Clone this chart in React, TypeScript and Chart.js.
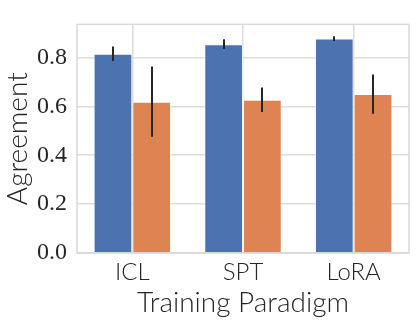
import React, { useEffect, useRef } from "react";
import { Chart, registerables } from "chart.js";

Chart.register(...registerables);

const categories = ["ICL", "SPT", "LoRA"];
const seriesA = [0.815, 0.854, 0.877];
const seriesAErr = [0.03, 0.02, 0.01];
const seriesB = [0.619, 0.627, 0.65];
const seriesBErr = [0.144, 0.05, 0.08];
const yTicks = [0, 0.2, 0.4, 0.6, 0.8];

const errorBarPlugin = {
  id: "errorBars",
  afterDatasetsDraw(chart: any) {
    const ctx = chart.ctx;
    const yScale = chart.scales.y;
    const errs = [seriesAErr, seriesBErr];
    ctx.save();
    ctx.strokeStyle = "#262626";
    ctx.lineWidth = 2;
    chart.data.datasets.forEach((ds: any, di: number) => {
      const meta = chart.getDatasetMeta(di);
      meta.data.forEach((bar: any, i: number) => {
        const v = ds.data[i];
        const e = errs[di][i];
        const x = Math.round(bar.x);
        ctx.beginPath();
        ctx.moveTo(x, yScale.getPixelForValue(v - e));
        ctx.lineTo(x, yScale.getPixelForValue(v + e));
        ctx.stroke();
      });
    });
    ctx.restore();
  },
};

const framePlugin = {
  id: "frame",
  afterDraw(chart: any) {
    const { ctx, chartArea } = chart;
    ctx.save();
    ctx.strokeStyle = "#d9d9d9";
    ctx.lineWidth = 1.5;
    ctx.strokeRect(chartArea.left, chartArea.top, chartArea.right - chartArea.left, chartArea.bottom - chartArea.top);
    ctx.restore();
  },
};

export default function App() {
  const ref = useRef<HTMLCanvasElement>(null);
  useEffect(() => {
    document.body.style.margin = "0";
    if (!ref.current) return;
    const chart = new Chart(ref.current, {
      type: "bar",
      data: {
        labels: categories,
        datasets: [
          {
            data: seriesA,
            backgroundColor: "#4C72B0",
            borderColor: "rgba(255,255,255,0.6)",
            borderWidth: 1,
            categoryPercentage: 0.7,
            barPercentage: 1,
          },
          {
            data: seriesB,
            backgroundColor: "#DD8452",
            borderColor: "rgba(255,255,255,0.6)",
            borderWidth: 1,
            categoryPercentage: 0.7,
            barPercentage: 1,
          },
        ],
      },
      plugins: [errorBarPlugin, framePlugin],
      options: {
        animation: false,
        responsive: false,
        devicePixelRatio: 1,
        layout: { padding: { top: 6, right: 7, left: 0, bottom: 0 } },
        plugins: { legend: { display: false }, tooltip: { enabled: false } },
        scales: {
          x: {
            grid: { offset: false, color: "#dcdcdc", lineWidth: 1.5, drawTicks: false },
            border: { display: false },
            ticks: {
              color: "#262626",
              padding: 5,
              font: { family: "Lato", size: 24, weight: "300" },
            },
            title: {
              display: true,
              text: "Training Paradigm",
              color: "#262626",
              font: { family: "Lato", size: 28, weight: "300" },
              padding: { top: 0, bottom: 4 },
            },
            afterFit(scale: any) {
              scale.height = 71;
            },
          },
          y: {
            min: 0,
            max: 0.935,
            grid: { color: "#dcdcdc", lineWidth: 1.5, drawTicks: false },
            border: { display: false },
            afterBuildTicks(scale: any) {
              scale.ticks = yTicks.map((v) => ({ value: v }));
            },
            ticks: {
              color: "#262626",
              padding: 10,
              font: { family: "Liberation Serif", size: 24 },
              callback: (v: any) => Number(v).toFixed(1),
            },
            title: {
              display: true,
              text: "Agreement",
              color: "#262626",
              font: { family: "Lato", size: 28, weight: "300" },
              padding: { top: 1, bottom: 0 },
            },
            afterFit(scale: any) {
              scale.width = 77;
            },
          },
        },
      },
    });
    return () => chart.destroy();
  }, []);
  return <canvas ref={ref} width={416} height={324} style={{ display: "block" }} />;
}
